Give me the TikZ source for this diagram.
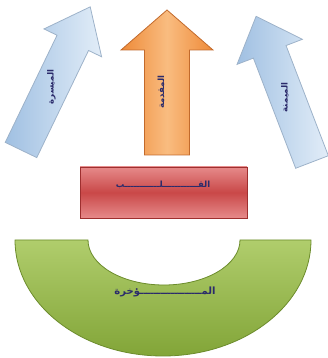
\documentclass[tikz,border=0pt]{standalone}
\usepackage{fontspec}
\newfontfamily\arabicfont[Script=Arabic]{DejaVu Sans}
\TeXXeTstate=1
\definecolor{navy}{HTML}{2B2B6B}
\definecolor{blueL}{HTML}{A0C0E2}
\definecolor{blueR}{HTML}{E2EDF8}
\definecolor{blueB}{HTML}{9DB2C9}
\definecolor{orL}{HTML}{EE8A38}
\definecolor{orM}{HTML}{F9BC80}
\definecolor{orB}{HTML}{C26A2C}
\definecolor{redT}{HTML}{E68A8A}
\definecolor{redM}{HTML}{C94848}
\definecolor{redB}{HTML}{9E2F2F}
\definecolor{grT}{HTML}{B0CD6C}
\definecolor{grB}{HTML}{82A538}
\definecolor{grE}{HTML}{6C8C2C}
\begin{document}
\begin{tikzpicture}[x=1pt,y=1pt,
  lbl/.style={font=\arabicfont\bfseries\fontsize{8.5}{10}\selectfont, text=navy, inner sep=1pt},
  biglbl/.style={font=\arabicfont\bfseries\fontsize{10}{11}\selectfont, text=navy, inner sep=1pt},
  bluearrow/.style={draw=blueB, line width=0.8pt, left color=blueL, right color=blueR},
  orangearrow/.style={draw=orB, line width=0.8pt, left color=orL, right color=orL, middle color=orM},
  redbox/.style={draw=redB, line width=0.8pt, top color=redT, bottom color=redT, middle color=redM},
  greenring/.style={draw=grE, line width=0.8pt, top color=grT, bottom color=grB}]
\useasboundingbox (0,0) rectangle (328,358);
% left arrow
\begin{scope}[shift={(21,208)}, rotate=-25.8]
\path[bluearrow] (-17.5,0) -- (17.5,0) -- (17.5,119) -- (32,119) -- (0,159) -- (-32,119) -- (-17.5,119) -- cycle;
\node[lbl, rotate=90] (maysara) at (0,70) {\beginR الميسرة\endR};
\end{scope}
% center arrow
\begin{scope}[shift={(167,203)}]
\path[orangearrow] (-22.5,0) -- (22.5,0) -- (22.5,105) -- (46,105) -- (0,145) -- (-46,105) -- (-22.5,105) -- cycle;
\node[lbl, rotate=90] (muqaddima) at (-6,63) {\beginR المقدمة\endR};
\end{scope}
% right arrow
\begin{scope}[shift={(312,196)}, rotate=21]
\path[bluearrow] (-17.5,0) -- (17.5,0) -- (17.5,118) -- (35,118) -- (0,156) -- (-35,118) -- (-17.5,118) -- cycle;
\node[lbl, rotate=90] (maymana) at (-2,70) {\beginR الميمنة\endR};
\end{scope}
% box
\path[redbox] (80,140) rectangle (247,191);
\node[lbl] (qalb) at (163,173) {\beginR القــــــــــــلــــــــــــب\endR};
% ring
\path[greenring] (15,118) arc[start angle=180, end angle=360, x radius=148, y radius=116] -- (240,118) arc[start angle=0, end angle=-180, x radius=76, y radius=45] -- cycle;
\node[biglbl] (muakhkhara) at (165,66) {\beginR المــــــــــــــــــؤخرة\endR};
\end{tikzpicture}
\end{document}
